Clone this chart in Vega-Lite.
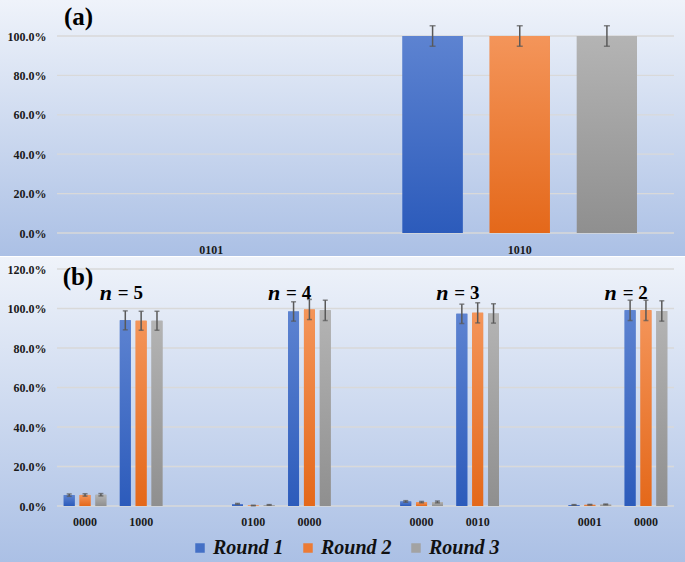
{
  "$schema": "https://vega.github.io/schema/vega-lite/v6.json",
  "padding": 0,
  "background": "#ffffff",
  "spacing": 1,
  "resolve": {"scale": {"xOffset": "independent", "color": "shared"}},
  "config": {
    "font": "'Liberation Serif', 'Times New Roman', Times, 'DejaVu Serif', serif",
    "view": {"stroke": null, "fill": {"gradient": "linear", "x1": 0, "y1": 0, "x2": 0, "y2": 1, "stops": [{"offset": 0, "color": "#eff3fa"}, {"offset": 1, "color": "#abc0e5"}]}},
    "axis": {"labelFont": "'Liberation Serif', 'Times New Roman', Times, 'DejaVu Serif', serif", "labelFontWeight": "bold", "labelFontSize": 12, "labelColor": "#1a1a1a"},
    "legend": {"labelFont": "'Liberation Serif', 'Times New Roman', Times, 'DejaVu Serif', serif"},
    "text": {"font": "'Liberation Serif', 'Times New Roman', Times, 'DejaVu Serif', serif"}
  },
  "datasets": {
    "a": [
      {"slot": "0101", "Round": "Round 1", "v": 0, "lo": null, "hi": null},
      {"slot": "0101", "Round": "Round 2", "v": 0, "lo": null, "hi": null},
      {"slot": "0101", "Round": "Round 3", "v": 0, "lo": null, "hi": null},
      {"slot": "1010", "Round": "Round 1", "v": 1.0, "lo": 0.948, "hi": 1.052},
      {"slot": "1010", "Round": "Round 2", "v": 1.0, "lo": 0.948, "hi": 1.052},
      {"slot": "1010", "Round": "Round 3", "v": 1.0, "lo": 0.948, "hi": 1.052}
    ],
    "b": [
      {"slot": "0000a", "Round": "Round 1", "v": 0.055, "lo": 0.049, "hi": 0.061},
      {"slot": "0000a", "Round": "Round 2", "v": 0.056, "lo": 0.050, "hi": 0.062},
      {"slot": "0000a", "Round": "Round 3", "v": 0.057, "lo": 0.051, "hi": 0.063},
      {"slot": "1000", "Round": "Round 1", "v": 0.940, "lo": 0.892, "hi": 0.988},
      {"slot": "1000", "Round": "Round 2", "v": 0.938, "lo": 0.890, "hi": 0.986},
      {"slot": "1000", "Round": "Round 3", "v": 0.938, "lo": 0.890, "hi": 0.986},
      {"slot": "0100", "Round": "Round 1", "v": 0.010, "lo": 0.008, "hi": 0.013},
      {"slot": "0100", "Round": "Round 2", "v": 0.002, "lo": 0.001, "hi": 0.004},
      {"slot": "0100", "Round": "Round 3", "v": 0.005, "lo": 0.004, "hi": 0.007},
      {"slot": "0000b", "Round": "Round 1", "v": 0.985, "lo": 0.936, "hi": 1.034},
      {"slot": "0000b", "Round": "Round 2", "v": 0.995, "lo": 0.944, "hi": 1.046},
      {"slot": "0000b", "Round": "Round 3", "v": 0.991, "lo": 0.939, "hi": 1.042},
      {"slot": "0000c", "Round": "Round 1", "v": 0.023, "lo": 0.019, "hi": 0.027},
      {"slot": "0000c", "Round": "Round 2", "v": 0.019, "lo": 0.016, "hi": 0.023},
      {"slot": "0000c", "Round": "Round 3", "v": 0.020, "lo": 0.016, "hi": 0.025},
      {"slot": "0010", "Round": "Round 1", "v": 0.973, "lo": 0.924, "hi": 1.022},
      {"slot": "0010", "Round": "Round 2", "v": 0.978, "lo": 0.927, "hi": 1.029},
      {"slot": "0010", "Round": "Round 3", "v": 0.975, "lo": 0.926, "hi": 1.024},
      {"slot": "0001", "Round": "Round 1", "v": 0.005, "lo": 0.004, "hi": 0.007},
      {"slot": "0001", "Round": "Round 2", "v": 0.006, "lo": 0.005, "hi": 0.008},
      {"slot": "0001", "Round": "Round 3", "v": 0.008, "lo": 0.006, "hi": 0.010},
      {"slot": "0000d", "Round": "Round 1", "v": 0.991, "lo": 0.939, "hi": 1.042},
      {"slot": "0000d", "Round": "Round 2", "v": 0.991, "lo": 0.939, "hi": 1.042},
      {"slot": "0000d", "Round": "Round 3", "v": 0.987, "lo": 0.936, "hi": 1.039}
    ],
    "grid_a": [{"g": 0}, {"g": 0.2}, {"g": 0.4}, {"g": 0.6}, {"g": 0.8}, {"g": 1.0}],
    "grid_b": [{"g": 0}, {"g": 0.2}, {"g": 0.4}, {"g": 0.6}, {"g": 0.8}, {"g": 1.0}, {"g": 1.2}],
    "nlab": [
      {"slot": "1000", "eq": "= 5"},
      {"slot": "0000b", "eq": "= 4"},
      {"slot": "0010", "eq": "= 3"},
      {"slot": "0000d", "eq": "= 2"}
    ],
    "ta": [{"t": "(a)"}],
    "tb": [{"t": "(b)"}]
  },
  "vconcat": [
    {
      "width": 685,
      "height": 256,
      "resolve": {"scale": {"x": "independent"}},
      "layer": [
        {
          "data": {"name": "grid_a"},
          "mark": {"type": "rule", "color": "#d9d9d9", "strokeWidth": 1.3},
          "encoding": {
            "x": {"datum": 0, "type": "quantitative", "scale": {"domain": [0, 1], "range": [57, 674], "nice": false, "zero": false}, "axis": null},
            "x2": {"datum": 1},
            "y": {"field": "g", "type": "quantitative", "scale": {"domain": [0, 1], "range": [233, 36], "nice": false},
              "axis": {"values": [0, 0.2, 0.4, 0.6, 0.8, 1.0], "format": ".1%", "grid": false, "ticks": false, "domain": false, "offset": -57, "labelPadding": 11, "title": null, "labelFlush": false, "labelOverlap": false}}
          }
        },
        {
          "layer": [
            {
              "data": {"name": "a"},
              "mark": {"type": "bar"},
              "encoding": {
                "x": {"field": "slot", "type": "nominal", "scale": {"domain": ["0101", "1010"], "range": [57, 674], "paddingInner": 0.24, "paddingOuter": 0.12},
                  "axis": {"orient": "bottom", "offset": -23, "labelPadding": 11, "ticks": false, "domain": false, "title": null, "labelAngle": 0, "labelBaseline": "top"}},
                "xOffset": {"field": "Round", "type": "nominal", "scale": {"domain": ["Round 1", "Round 2", "Round 3"], "range": [0, 234.46], "paddingInner": 0.31, "paddingOuter": 0}},
                "y": {"field": "v", "type": "quantitative", "scale": {"domain": [0, 1], "range": [233, 36], "nice": false},
                  "axis": {"values": [0, 0.2, 0.4, 0.6, 0.8, 1.0], "format": ".1%", "grid": false, "ticks": false, "domain": false, "offset": -57, "labelPadding": 11, "title": null, "labelFlush": false, "labelOverlap": false}},
                "color": {"field": "Round", "type": "nominal",
                  "scale": {"domain": ["Round 1", "Round 2", "Round 3"], "range": ["#4470c6", "#ec7b35", "#a3a3a3"]},
                  "legend": {"orient": "none", "legendX": 190, "legendY": 538, "direction": "horizontal", "title": null, "symbolType": "square", "symbolSize": 90, "symbolStrokeWidth": 0, "symbolOpacity": 1, "labelFontSize": 20, "labelFontWeight": "bold", "labelFontStyle": "italic", "labelColor": "#111111", "labelOffset": 3, "columnPadding": 14, "padding": 0, "labelLimit": 200}}
              }
            },
            {
              "data": {"name": "a"},
              "transform": [{"filter": "datum.Round == 'Round 1'"}],
              "mark": {"type": "bar", "color": {"gradient": "linear", "x1": 0, "y1": 0, "x2": 0, "y2": 1, "stops": [{"offset": 0, "color": "#5d83d1"}, {"offset": 1, "color": "#2c5bbb"}]}},
              "encoding": {
                "x": {"field": "slot", "type": "nominal"},
                "xOffset": {"field": "Round", "type": "nominal"},
                "y": {"field": "v", "type": "quantitative"}
              }
            },
            {
              "data": {"name": "a"},
              "transform": [{"filter": "datum.Round == 'Round 2'"}],
              "mark": {"type": "bar", "color": {"gradient": "linear", "x1": 0, "y1": 0, "x2": 0, "y2": 1, "stops": [{"offset": 0, "color": "#f4955a"}, {"offset": 1, "color": "#e4681a"}]}},
              "encoding": {
                "x": {"field": "slot", "type": "nominal"},
                "xOffset": {"field": "Round", "type": "nominal"},
                "y": {"field": "v", "type": "quantitative"}
              }
            },
            {
              "data": {"name": "a"},
              "transform": [{"filter": "datum.Round == 'Round 3'"}],
              "mark": {"type": "bar", "color": {"gradient": "linear", "x1": 0, "y1": 0, "x2": 0, "y2": 1, "stops": [{"offset": 0, "color": "#b4b4b4"}, {"offset": 1, "color": "#8f8f8f"}]}},
              "encoding": {
                "x": {"field": "slot", "type": "nominal"},
                "xOffset": {"field": "Round", "type": "nominal"},
                "y": {"field": "v", "type": "quantitative"}
              }
            },
            {
              "data": {"name": "a"},
              "mark": {"type": "rule", "color": "#595959", "strokeWidth": 1.5},
              "encoding": {
                "x": {"field": "slot", "type": "nominal"},
                "xOffset": {"field": "Round", "type": "nominal"},
                "y": {"field": "lo", "type": "quantitative"},
                "y2": {"field": "hi"}
              }
            },
            {
              "data": {"name": "a"},
              "mark": {"type": "tick", "color": "#595959", "thickness": 1.5, "size": 6},
              "encoding": {
                "x": {"field": "slot", "type": "nominal"},
                "xOffset": {"field": "Round", "type": "nominal"},
                "y": {"field": "lo", "type": "quantitative"}
              }
            },
            {
              "data": {"name": "a"},
              "mark": {"type": "tick", "color": "#595959", "thickness": 1.5, "size": 6},
              "encoding": {
                "x": {"field": "slot", "type": "nominal"},
                "xOffset": {"field": "Round", "type": "nominal"},
                "y": {"field": "hi", "type": "quantitative"}
              }
            },
            {
              "data": {"name": "ta"},
              "mark": {"type": "text", "align": "left", "baseline": "middle", "fontSize": 25, "fontWeight": "bold", "color": "#000000", "dx": -30},
              "encoding": {
                "x": {"datum": "0101", "bandPosition": 0},
                "y": {"datum": 1.096},
                "text": {"field": "t"}
              }
            }
          ]
        }
      ]
    },
    {
      "width": 685,
      "height": 305,
      "resolve": {"scale": {"x": "independent"}},
      "layer": [
        {
          "data": {"name": "grid_b"},
          "mark": {"type": "rule", "color": "#d9d9d9", "strokeWidth": 1.3},
          "encoding": {
            "x": {"datum": 0, "type": "quantitative", "scale": {"domain": [0, 1], "range": [57, 674], "nice": false, "zero": false}, "axis": null},
            "x2": {"datum": 1},
            "y": {"field": "g", "type": "quantitative", "scale": {"domain": [0, 1.2], "range": [249, 12], "nice": false},
              "axis": {"values": [0, 0.2, 0.4, 0.6, 0.8, 1.0, 1.2], "format": ".1%", "grid": false, "ticks": false, "domain": false, "offset": -57, "labelPadding": 11, "title": null, "labelFlush": false, "labelOverlap": false}}
          }
        },
        {
          "layer": [
            {
              "data": {"name": "b"},
              "mark": {"type": "bar"},
              "encoding": {
                "x": {"field": "slot", "type": "nominal", "scale": {"domain": ["0000a", "1000", "e1", "0100", "0000b", "e2", "0000c", "0010", "e3", "0001", "0000d"], "range": [57, 674], "paddingInner": 0.24, "paddingOuter": 0.12},
                  "axis": {"orient": "bottom", "offset": -56, "labelPadding": 10, "ticks": false, "domain": false, "title": null, "labelAngle": 0, "labelExpr": "indexof(datum.value, 'e') == 0 ? '' : substring(datum.value, 0, 4)", "labelBaseline": "top"}},
                "xOffset": {"field": "Round", "type": "nominal", "scale": {"domain": ["Round 1", "Round 2", "Round 3"], "range": [0, 42.63], "paddingInner": 0.31, "paddingOuter": 0}},
                "y": {"field": "v", "type": "quantitative", "scale": {"domain": [0, 1.2], "range": [249, 12], "nice": false},
                  "axis": {"values": [0, 0.2, 0.4, 0.6, 0.8, 1.0, 1.2], "format": ".1%", "grid": false, "ticks": false, "domain": false, "offset": -57, "labelPadding": 11, "title": null, "labelFlush": false, "labelOverlap": false}},
                "color": {"field": "Round", "type": "nominal",
                  "scale": {"domain": ["Round 1", "Round 2", "Round 3"], "range": ["#4470c6", "#ec7b35", "#a3a3a3"]},
                  "legend": {"orient": "none", "legendX": 190, "legendY": 538, "direction": "horizontal", "title": null, "symbolType": "square", "symbolSize": 90, "symbolStrokeWidth": 0, "symbolOpacity": 1, "labelFontSize": 20, "labelFontWeight": "bold", "labelFontStyle": "italic", "labelColor": "#111111", "labelOffset": 3, "columnPadding": 14, "padding": 0, "labelLimit": 200}}
              }
            },
            {
              "data": {"name": "b"},
              "transform": [{"filter": "datum.Round == 'Round 1'"}],
              "mark": {"type": "bar", "color": {"gradient": "linear", "x1": 0, "y1": 0, "x2": 0, "y2": 1, "stops": [{"offset": 0, "color": "#5d83d1"}, {"offset": 1, "color": "#2c5bbb"}]}},
              "encoding": {
                "x": {"field": "slot", "type": "nominal"},
                "xOffset": {"field": "Round", "type": "nominal"},
                "y": {"field": "v", "type": "quantitative"}
              }
            },
            {
              "data": {"name": "b"},
              "transform": [{"filter": "datum.Round == 'Round 2'"}],
              "mark": {"type": "bar", "color": {"gradient": "linear", "x1": 0, "y1": 0, "x2": 0, "y2": 1, "stops": [{"offset": 0, "color": "#f4955a"}, {"offset": 1, "color": "#e4681a"}]}},
              "encoding": {
                "x": {"field": "slot", "type": "nominal"},
                "xOffset": {"field": "Round", "type": "nominal"},
                "y": {"field": "v", "type": "quantitative"}
              }
            },
            {
              "data": {"name": "b"},
              "transform": [{"filter": "datum.Round == 'Round 3'"}],
              "mark": {"type": "bar", "color": {"gradient": "linear", "x1": 0, "y1": 0, "x2": 0, "y2": 1, "stops": [{"offset": 0, "color": "#b4b4b4"}, {"offset": 1, "color": "#8f8f8f"}]}},
              "encoding": {
                "x": {"field": "slot", "type": "nominal"},
                "xOffset": {"field": "Round", "type": "nominal"},
                "y": {"field": "v", "type": "quantitative"}
              }
            },
            {
              "data": {"name": "b"},
              "mark": {"type": "rule", "color": "#595959", "strokeWidth": 1.5},
              "encoding": {
                "x": {"field": "slot", "type": "nominal"},
                "xOffset": {"field": "Round", "type": "nominal"},
                "y": {"field": "lo", "type": "quantitative"},
                "y2": {"field": "hi"}
              }
            },
            {
              "data": {"name": "b"},
              "mark": {"type": "tick", "color": "#595959", "thickness": 1.5, "size": 5},
              "encoding": {
                "x": {"field": "slot", "type": "nominal"},
                "xOffset": {"field": "Round", "type": "nominal"},
                "y": {"field": "lo", "type": "quantitative"}
              }
            },
            {
              "data": {"name": "b"},
              "mark": {"type": "tick", "color": "#595959", "thickness": 1.5, "size": 5},
              "encoding": {
                "x": {"field": "slot", "type": "nominal"},
                "xOffset": {"field": "Round", "type": "nominal"},
                "y": {"field": "hi", "type": "quantitative"}
              }
            },
            {
              "data": {"name": "tb"},
              "mark": {"type": "text", "align": "left", "baseline": "middle", "fontSize": 25, "fontWeight": "bold", "color": "#000000", "dx": -1},
              "encoding": {
                "x": {"datum": "0000a", "bandPosition": 0},
                "y": {"datum": 1.159},
                "text": {"field": "t"}
              }
            },
            {
              "data": {"name": "nlab"},
              "mark": {"type": "text", "align": "center", "baseline": "middle", "fontSize": 22, "fontWeight": "bold", "fontStyle": "italic", "color": "#000000", "dx": -14},
              "encoding": {
                "x": {"field": "slot", "type": "nominal", "bandPosition": 0},
                "y": {"datum": 1.076},
                "text": {"value": "n"}
              }
            },
            {
              "data": {"name": "nlab"},
              "mark": {"type": "text", "align": "left", "baseline": "middle", "fontSize": 19, "fontWeight": "bold", "color": "#000000", "dx": -2},
              "encoding": {
                "x": {"field": "slot", "type": "nominal", "bandPosition": 0},
                "y": {"datum": 1.076},
                "text": {"field": "eq"}
              }
            }
          ]
        }
      ]
    }
  ]
}
